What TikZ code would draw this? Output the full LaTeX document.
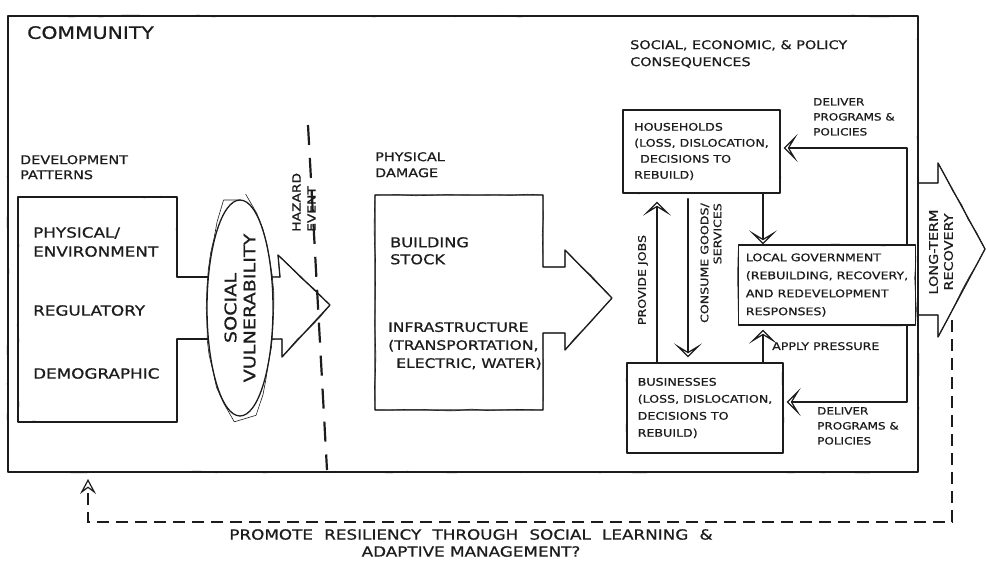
\documentclass[tikz,border=0pt]{standalone}
\usepackage{fontspec}
\setmainfont{DejaVu Sans}[FakeStretch=1.2, FakeBold=0.8]
\usetikzlibrary{arrows.meta,decorations.pathmorphing,shapes.geometric,backgrounds}
\definecolor{ink}{HTML}{1C1C1C}
\begin{document}
\begin{tikzpicture}[x=1pt,y=-1pt,
  pen/.style={draw=ink, line width=1.3pt, line join=round, line cap=round},
  sketch/.style={pen, postaction={draw=ink, line width=0.6pt, decorate,
      decoration={random steps, segment length=16pt, amplitude=0.9pt}}},
  lbl/.style={inner sep=0pt, text=ink, align=left, anchor=north west},
  box/.style={sketch, rectangle, inner sep=0pt, align=left, text=ink},
  conn/.style={pen, line width=1.2pt,
      -{Stealth[open, length=14pt, width=28pt, inset=8.5pt, line width=1.2pt]}},
  hazard/.style={draw=ink, line width=2.2pt, dash pattern=on 20pt off 13pt},
  feedback/.style={draw=ink, line width=1.2pt, dash pattern=on 12pt off 7pt,
      -{Stealth[open, length=15pt, width=16pt, inset=6pt, line width=1.2pt]}},
]
\useasboundingbox (0,0) rectangle (986,562);

% community frame
\node[sketch, rectangle, minimum width=910, minimum height=456, inner sep=0pt] (community) at (463,244) {};
\node[lbl, font=\fontsize{17}{20}\selectfont] (commlbl) at (27,26) {COMMUNITY};

% development patterns
\node[lbl, font=\fontsize{12}{15}\selectfont] (devlbl) at (20,155) {DEVELOPMENT\\PATTERNS};
\draw[sketch] (177,277) -- (177,197) -- (18,197) -- (18,422) -- (177,422) -- (177,339);
\node[lbl, font=\fontsize{14}{19}\selectfont] (physenv) at (33,227) {PHYSICAL/\\ENVIRONMENT};
\node[lbl, font=\fontsize{14}{19}\selectfont] (reg) at (33,305) {REGULATORY};
\node[lbl, font=\fontsize{14}{19}\selectfont] (demo) at (33,368) {DEMOGRAPHIC};

% social vulnerability
\node[sketch, ellipse, fill=white, rotate=90, minimum width=216, minimum height=66,
      inner sep=0pt, align=center, text=ink, font=\fontsize{16}{19}\selectfont] (vul) at (240,308) {SOCIAL\\VULNERABILITY};
\begin{scope}[on background layer]
  \draw[sketch] (177,277) -- (vul.center |- 0,277);
  \draw[sketch] (177,339) -- (vul.center |- 0,339);
  \draw[sketch] (vul.center |- 0,277) -- (280,277) -- (278,255) -- (330,305)
      -- (282,357) -- (282,339) -- (vul.center |- 0,339);
\end{scope}

% hazard event
\coordinate (hzA) at (308,125);
\coordinate (hzB) at (327,470);
\draw[hazard] (hzA) -- (hzB);
\node[lbl, anchor=west, rotate=90, font=\fontsize{11.5}{15}\selectfont] (hzlbl) at (304,232) {HAZARD\\EVENT};

% physical damage
\node[lbl, font=\fontsize{12}{16}\selectfont] (pdlbl) at (375,152) {PHYSICAL\\DAMAGE};
\draw[sketch] (543,267) -- (543,195) -- (375,195) -- (375,410) -- (543,410) -- (543,333)
   -- (565,333) -- (565,350) -- (612,298) -- (565,250) -- (565,267) -- cycle;
\node[lbl, font=\fontsize{13.5}{17}\selectfont] (bldg) at (390,237) {BUILDING\\STOCK};
\node[lbl, font=\fontsize{13}{18}\selectfont] (infra) at (388,322) {INFRASTRUCTURE\\(TRANSPORTATION,\\\hspace*{8pt}ELECTRIC, WATER)};

% consequences
\node[lbl, font=\fontsize{12}{17}\selectfont] (conslbl) at (630,40) {SOCIAL, ECONOMIC, \& POLICY\\CONSEQUENCES};
\node[box, minimum width=157, minimum height=83, font=\fontsize{10.5}{16}\selectfont] (hh) at (701.5,151.5)
   {HOUSEHOLDS\\(LOSS, DISLOCATION,\\\hspace*{6pt}DECISIONS TO\\REBUILD)};
\node[box, minimum width=177, minimum height=80, font=\fontsize{10.5}{18}\selectfont] (lg) at (827,285)
   {LOCAL GOVERNMENT\\(REBUILDING, RECOVERY,\\AND REDEVELOPMENT\\RESPONSES)};
\node[box, minimum width=156, minimum height=90, font=\fontsize{10.5}{17}\selectfont] (bz) at (705,408)
   {BUSINESSES\\(LOSS, DISLOCATION,\\DECISIONS TO\\REBUILD)};

\node[lbl, font=\fontsize{10}{15}\selectfont] (deliv1) at (813,98) {DELIVER\\PROGRAMS \&\\POLICIES};
\node[lbl, font=\fontsize{10}{15}\selectfont] (deliv2) at (817,407) {DELIVER\\PROGRAMS \&\\POLICIES};
\node[lbl, font=\fontsize{10.5}{13}\selectfont] (applylbl) at (772,342) {APPLY PRESSURE};

% flows between actors
\draw[conn] (hh.south -| 763,0) -- (lg.north -| 763,0);
\draw[conn, shorten >=4pt] (bz.north -| 763,0) -- (lg.south -| 763,0);
\draw[conn, shorten >=8pt] (bz.north -| 657,0) -- (hh.south -| 657,0);
\draw[conn, shorten <=5pt, shorten >=5pt] (hh.south -| 688,0) -- (bz.north -| 688,0);
\draw[conn, shorten >=3pt] (lg.north -| 907,0) |- ([yshift=3.5pt]hh.east);
\draw[conn, shorten >=3pt] (lg.south -| 907,0) |- ([yshift=6pt]bz.east);

\node[lbl, anchor=center, rotate=90, font=\fontsize{10.5}{13}\selectfont] (jobs) at (643,280) {PROVIDE JOBS};
\node[lbl, anchor=east, align=right, rotate=90, font=\fontsize{10.5}{13}\selectfont] (goods) at (711,203) {CONSUME GOODS/\\SERVICES};

% long-term recovery
\draw[sketch] (community.east |- 0,183) -- (938,183) -- (938,163) -- (985,249) -- (938,337)
   -- (938,315) -- (community.east |- 0,315);
\node[lbl, anchor=center, align=center, rotate=90, font=\fontsize{12}{15}\selectfont] (ltr) at (941,252) {LONG-TERM\\RECOVERY};

% feedback loop
\coordinate (fbA) at (952,320);
\coordinate (fbB) at (88,479);
\draw[feedback] (fbA) |- (fbB |- 0,522) -- (fbB);
\node[inner sep=0pt, align=center, text=ink, font=\fontsize{14}{17}\selectfont] (promote) at (471,543)
   {\spaceskip=0.8em\relax PROMOTE RESILIENCY THROUGH SOCIAL LEARNING \&\\ADAPTIVE MANAGEMENT?};
\end{tikzpicture}
\end{document}
